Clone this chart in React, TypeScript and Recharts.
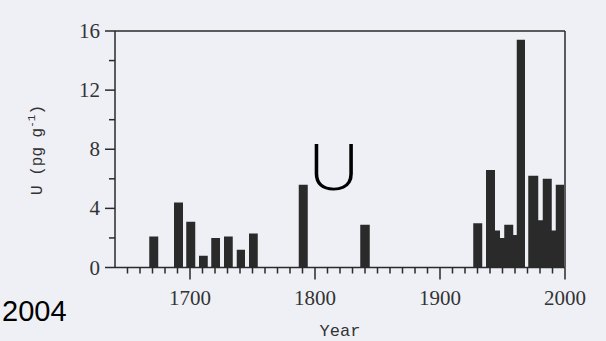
import React from "react";
import {
  ComposedChart,
  Area,
  XAxis,
  YAxis,
  ReferenceLine,
} from "recharts";

// each sample spans a range of years (start -> end) with one U value
const starts = [
  1667.4, 1687.2, 1697.0, 1707.2, 1717.0, 1727.2, 1737.4, 1747.2, 1787.0,
  1836.2, 1926.6, 1936.8, 1944.0, 1948.0, 1951.4, 1958.6, 1961.4, 1970.6,
  1978.6, 1982.2, 1989.4, 1992.6,
];
const ends = [
  1674.6, 1694.4, 1704.2, 1714.2, 1724.0, 1734.2, 1744.0, 1754.2, 1794.2,
  1843.8, 1933.8, 1944.0, 1948.0, 1951.4, 1958.6, 1961.4, 1968.0, 1978.6,
  1982.2, 1989.4, 1992.6, 1999.2,
];
const uValues = [
  2.1, 4.4, 3.1, 0.8, 2.0, 2.1, 1.2, 2.3, 5.6, 2.9, 3.0, 6.6, 2.5, 2.0, 2.9,
  2.2, 15.4, 6.2, 3.2, 6.0, 2.5, 5.6,
];

const xTicks = Array.from({ length: 36 }, (_, i) => 1650 + i * 10);
const xLabels = [1700, 1800, 1900, 2000];
const yTicks = [0, 2, 4, 6, 8, 10, 12, 14, 16];
const yLabels = [0, 4, 8, 12, 16];

// step data: value from start until end, zero in the gaps
const steps: { year: number; u: number }[] = [{ year: 1640, u: 0 }];
starts.forEach((s, i) => {
  steps.push({ year: s, u: uValues[i] });
  if (i === starts.length - 1 || starts[i + 1] !== ends[i]) {
    steps.push({ year: ends[i], u: 0 });
  }
});
steps.push({ year: 2000, u: 0 });

const ink = "#2a2a2a";
const tickFont = "'Liberation Serif', 'Times New Roman', serif";
const labelFont = "'Liberation Mono', 'Courier New', monospace";

const XTick = (props: any) => {
  const { x, y, payload } = props;
  const major = xLabels.includes(payload.value);
  return (
    <g>
      <line x1={x} x2={x} y1={y} y2={y + (major ? 12 : 6)} stroke={ink} strokeWidth={1.5} />
      {major && (
        <text x={x} y={y + 37} textAnchor="middle" fontFamily={tickFont} fontSize={21} fill="#333">
          {payload.value}
        </text>
      )}
    </g>
  );
};

const YTick = (props: any) => {
  const { x, y, payload } = props;
  const major = yLabels.includes(payload.value);
  return (
    <g>
      <line x1={x} x2={x - (major ? 10 : 6)} y1={y} y2={y} stroke={ink} strokeWidth={1.5} />
      {major && (
        <text x={x - 15} y={y + 7} textAnchor="end" fontFamily={tickFont} fontSize={21} fill="#333">
          {payload.value}
        </text>
      )}
    </g>
  );
};

export default function App() {
  return (
    <div
      style={{
        position: "absolute",
        left: 0,
        top: 0,
        width: 606,
        height: 341,
        background: "#eef0f6",
        overflow: "hidden",
      }}
    >
      <ComposedChart
        width={606}
        height={341}
        data={steps}
        margin={{ top: 31, right: 41, bottom: 0, left: 0 }}
      >
        <XAxis
          dataKey="year"
          type="number"
          domain={[1640, 2000]}
          ticks={xTicks}
          interval={0}
          tickSize={0}
          tickMargin={0}
          tick={<XTick />}
          axisLine={{ stroke: ink, strokeWidth: 1.5 }}
          height={73.5}
        />
        <YAxis
          type="number"
          domain={[0, 16]}
          ticks={yTicks}
          interval={0}
          tickSize={0}
          tickMargin={0}
          tick={<YTick />}
          axisLine={{ stroke: ink, strokeWidth: 1.5 }}
          width={115}
        />
        <ReferenceLine y={16} stroke={ink} strokeWidth={1.5} />
        <ReferenceLine x={2000} stroke={ink} strokeWidth={1.5} />
        <Area
          type="stepAfter"
          dataKey="u"
          stroke="none"
          fill={ink}
          fillOpacity={1}
          baseValue={0}
          dot={false}
          activeDot={false}
          isAnimationActive={false}
        />
      </ComposedChart>
      <svg
        width={606}
        height={341}
        style={{ position: "absolute", left: 0, top: 0, pointerEvents: "none" }}
      >
        <text x={340} y={336} textAnchor="middle" fontFamily={labelFont} fontSize={17} fill="#333">
          Year
        </text>
        <text
          transform="translate(42,150) rotate(-90)"
          textAnchor="middle"
          fontFamily={labelFont}
          fontSize={16}
          fill="#333"
        >
          U (pg g
          <tspan dy={-7} fontSize={11}>-1</tspan>
          <tspan dy={7}>)</tspan>
        </text>
        <text
          transform="translate(308,190) scale(1.12,1)"
          fontFamily="'Open Sans', 'Liberation Sans', sans-serif"
          fontWeight={300}
          fontSize={64}
          fill="#000"
        >
          U
        </text>
        <text x={2} y={321} fontFamily="'Liberation Sans', Arial, sans-serif" fontSize={29} fill="#000">
          2004
        </text>
      </svg>
    </div>
  );
}
